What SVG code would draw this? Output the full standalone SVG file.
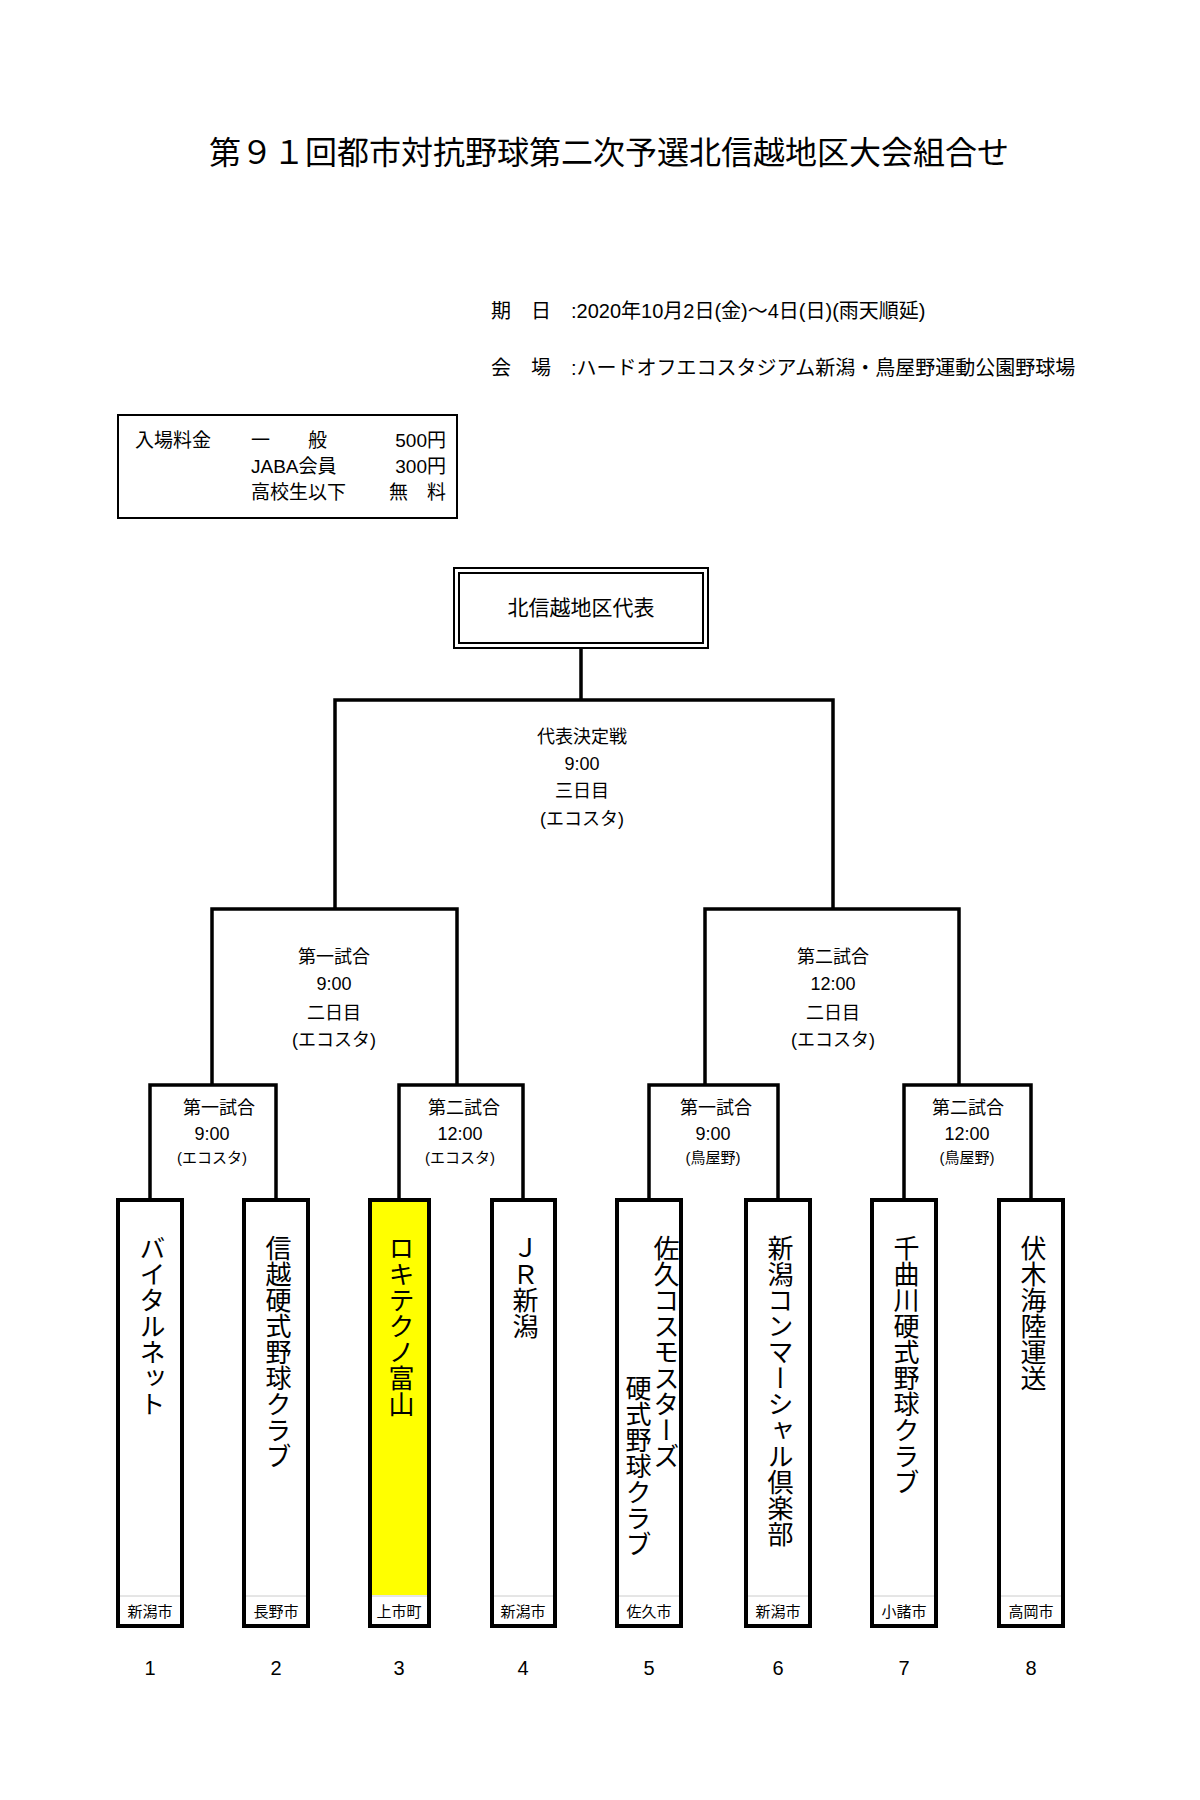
<svg xmlns="http://www.w3.org/2000/svg" width="1200" height="1800" viewBox="0 0 1200 1800">
<style>
text{font-family:"Liberation Sans","Noto Sans CJK JP",sans-serif;fill:#000}
.c{text-anchor:middle}
.b{font-size:19px}
.s{font-size:18px}
.v{font-size:26px;writing-mode:vertical-rl;text-orientation:upright}
.city{font-size:15px;text-anchor:middle}
.num{font-size:20px;text-anchor:middle}
.ln{fill:none;stroke:#000;stroke-width:3.5}
.box{fill:#fff;stroke:#000;stroke-width:4}
</style>
<rect width="1200" height="1800" fill="#fff"/>
<text x="609" y="164" class="c" font-size="32">第９１回都市対抗野球第二次予選北信越地区大会組合せ</text>
<text x="491" y="318" font-size="20" xml:space="preserve">期　日　:2020年10月2日(金)～4日(日)(雨天順延)</text>
<text x="491" y="375" font-size="20" xml:space="preserve">会　場　:ハードオフエコスタジアム新潟・鳥屋野運動公園野球場</text>
<g id="fee">
<rect x="118" y="415" width="339" height="103" fill="#fff" stroke="#000" stroke-width="2"/>
<text x="135" y="447" class="b">入場料金</text>
<text x="251" y="447" class="b" xml:space="preserve">一　　般</text>
<text x="446" y="447" class="b" text-anchor="end">500円</text>
<text x="251" y="473" class="b">JABA会員</text>
<text x="446" y="473" class="b" text-anchor="end">300円</text>
<text x="251" y="499" class="b">高校生以下</text>
<text x="446" y="499" class="b" text-anchor="end" xml:space="preserve">無　料</text>
</g>
<g id="top">
<rect x="454" y="568" width="254" height="80" fill="#fff" stroke="#000" stroke-width="2"/>
<rect x="459" y="573" width="244" height="70" fill="none" stroke="#000" stroke-width="2"/>
<text x="581" y="615" class="c" font-size="21">北信越地区代表</text>
</g>
<g id="connectors">
<path class="ln" d="M581 648V700M335 909V700H833V909"/>
<path class="ln" d="M212 1085V909H457V1085M705 1085V909H959V1085"/>
<path class="ln" d="M150 1202V1085H276V1202M399 1202V1085H523V1202M649 1202V1085H778V1202M904 1202V1085H1031V1202"/>
</g>
<g id="labels">
<text x="582" y="743" class="c s">代表決定戦</text>
<text x="582" y="770" class="c s">9:00</text>
<text x="582" y="797" class="c s">三日目</text>
<text x="582" y="825" class="c s">(エコスタ)</text>
<text x="334" y="963" class="c s">第一試合</text>
<text x="334" y="990" class="c s">9:00</text>
<text x="334" y="1019" class="c s">二日目</text>
<text x="334" y="1046" class="c s">(エコスタ)</text>
<text x="833" y="963" class="c s">第二試合</text>
<text x="833" y="990" class="c s">12:00</text>
<text x="833" y="1019" class="c s">二日目</text>
<text x="833" y="1046" class="c s">(エコスタ)</text>
<text x="219" y="1114" class="c s">第一試合</text>
<text x="212" y="1140" class="c s">9:00</text>
<text x="212" y="1163" class="c" font-size="15">(エコスタ)</text>
<text x="464" y="1114" class="c s">第二試合</text>
<text x="460" y="1140" class="c s">12:00</text>
<text x="460" y="1163" class="c" font-size="15">(エコスタ)</text>
<text x="716" y="1114" class="c s">第一試合</text>
<text x="713" y="1140" class="c s">9:00</text>
<text x="713" y="1163" class="c" font-size="15">(鳥屋野)</text>
<text x="968" y="1114" class="c s">第二試合</text>
<text x="967" y="1140" class="c s">12:00</text>
<text x="967" y="1163" class="c" font-size="15">(鳥屋野)</text>
</g>
<g id="t1"><rect class="box" x="118" y="1200" width="64" height="426"/><line x1="120" y1="1596" x2="180" y2="1596" stroke="#ccc"/><text x="150" y="1235" class="v">バイタルネット</text><text x="150" y="1617" class="city">新潟市</text><text x="150" y="1675" class="num">1</text></g>
<g id="t2"><rect class="box" x="244" y="1200" width="64" height="426"/><line x1="246" y1="1596" x2="306" y2="1596" stroke="#ccc"/><text x="276" y="1235" class="v">信越硬式野球クラブ</text><text x="276" y="1617" class="city">長野市</text><text x="276" y="1675" class="num">2</text></g>
<g id="t3"><rect class="box" x="370" y="1200" width="59" height="426"/><rect x="372" y="1202" width="55" height="393" fill="#ffff00"/><line x1="372" y1="1596" x2="427" y2="1596" stroke="#ccc"/><text x="399" y="1235" class="v">ロキテクノ富山</text><text x="399" y="1617" class="city">上市町</text><text x="399" y="1675" class="num">3</text></g>
<g id="t4"><rect class="box" x="492" y="1200" width="63" height="426"/><line x1="494" y1="1596" x2="553" y2="1596" stroke="#ccc"/><text x="523" y="1235" class="v">ＪＲ新潟</text><text x="523" y="1617" class="city">新潟市</text><text x="523" y="1675" class="num">4</text></g>
<g id="t5"><rect class="box" x="617" y="1200" width="64" height="426"/><line x1="619" y1="1596" x2="679" y2="1596" stroke="#ccc"/><text x="664" y="1235" class="v">佐久コスモスターズ</text><text x="636" y="1375" class="v">硬式野球クラブ</text><text x="649" y="1617" class="city">佐久市</text><text x="649" y="1675" class="num">5</text></g>
<g id="t6"><rect class="box" x="746" y="1200" width="64" height="426"/><line x1="748" y1="1596" x2="808" y2="1596" stroke="#ccc"/><text x="778" y="1235" class="v">新潟コンマーシャル倶楽部</text><text x="778" y="1617" class="city">新潟市</text><text x="778" y="1675" class="num">6</text></g>
<g id="t7"><rect class="box" x="872" y="1200" width="64" height="426"/><line x1="874" y1="1596" x2="934" y2="1596" stroke="#ccc"/><text x="904" y="1235" class="v">千曲川硬式野球クラブ</text><text x="904" y="1617" class="city">小諸市</text><text x="904" y="1675" class="num">7</text></g>
<g id="t8"><rect class="box" x="999" y="1200" width="64" height="426"/><line x1="1001" y1="1596" x2="1061" y2="1596" stroke="#ccc"/><text x="1031" y="1235" class="v">伏木海陸運送</text><text x="1031" y="1617" class="city">高岡市</text><text x="1031" y="1675" class="num">8</text></g>
</svg>
